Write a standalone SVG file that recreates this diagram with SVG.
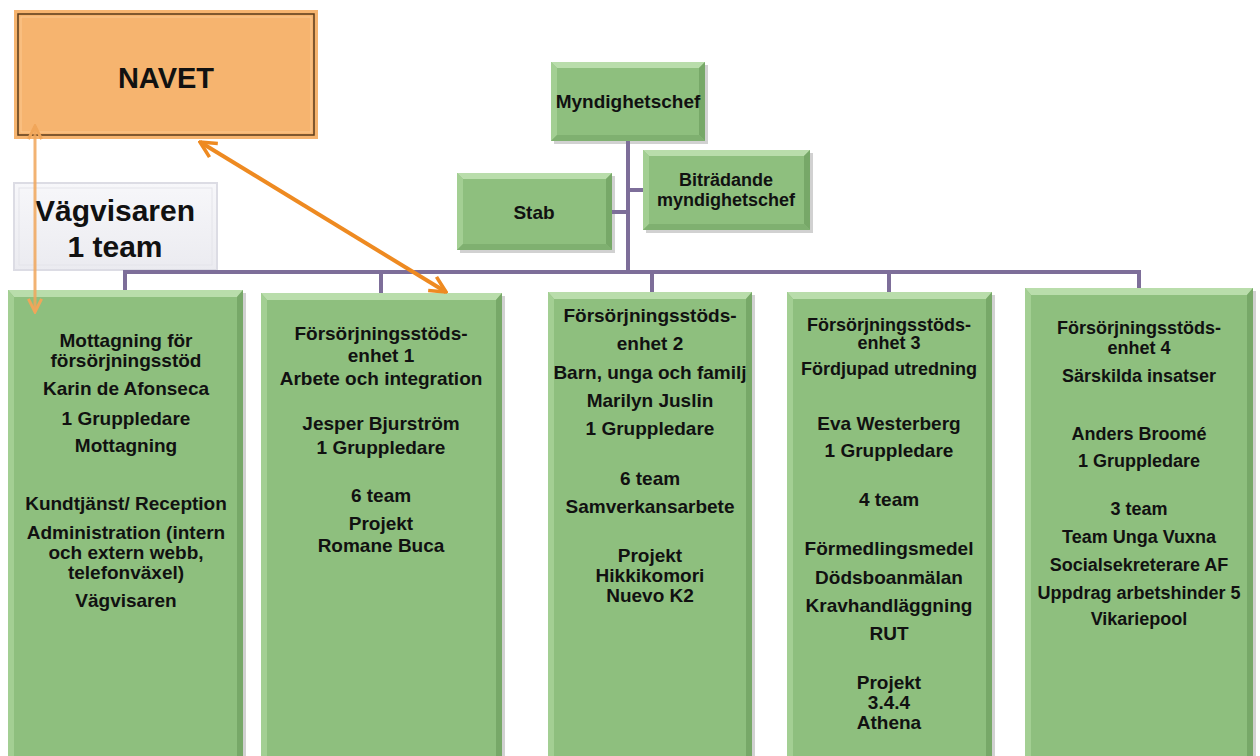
<svg xmlns="http://www.w3.org/2000/svg" width="1260" height="756" viewBox="0 0 1260 756">
<style>
text{font-family:"Liberation Sans",Arial,sans-serif;font-weight:bold;fill:#111;text-anchor:middle}
.t19{font-size:19px}
.t18{font-size:18px}
.g{fill:#8ebf7e}
.gt{fill:#b9ddab}
.gl{fill:#a3cf93}
.gr{fill:#77a868}
.gb{fill:#7fb070}
.sh{fill:#000;opacity:0.18}
.org{stroke:#7d6e99;stroke-width:4;fill:none}
</style>
<defs>
<marker id="chevL" viewBox="0 0 10 10" refX="9" refY="5" markerWidth="5.5" markerHeight="5.5" orient="auto-start-reverse" markerUnits="strokeWidth">
<path d="M1,1 L9,5 L1,9" fill="none" stroke="#f0a65a" stroke-width="1.8"/>
</marker>
<marker id="chevD" viewBox="0 0 10 10" refX="9" refY="5" markerWidth="5" markerHeight="5" orient="auto-start-reverse" markerUnits="strokeWidth">
<path d="M1,1 L9,5 L1,9" fill="none" stroke="#ee8a21" stroke-width="1.8"/>
</marker>
<linearGradient id="greyg" x1="0" y1="0" x2="0" y2="1">
<stop offset="0" stop-color="#f7f7fa"/><stop offset="1" stop-color="#ebebf0"/>
</linearGradient>
</defs>

<g id="navet">
<rect x="14" y="10" width="304" height="129" fill="#f6b46f"/>
<rect x="18" y="14" width="296" height="121" fill="none" stroke="#5a3a1a" stroke-width="1.5"/>
<rect x="21" y="17" width="290" height="115" fill="none" stroke="#fcc890" stroke-width="1"/>
<text x="166" y="88" style="font-size:29px">NAVET</text>
</g>

<g id="vagvisaren">
<rect x="14" y="183" width="203" height="87" fill="url(#greyg)" stroke="#dcdce4" stroke-width="2"/>
<rect x="19" y="188" width="193" height="77" fill="none" stroke="#e4e4ea" stroke-width="1"/>
<text x="115" y="221" style="font-size:30px">Vägvisaren</text>
<text x="115" y="257" style="font-size:30px">1 team</text>
</g>

<g id="myndighetschef">
<rect x="554" y="65" width="154" height="79" class="sh"/>
<rect x="551" y="62" width="154" height="79" class="g"/>
<polygon points="551,62 705,62 699,68 557,68" class="gt"/>
<polygon points="551,62 557,68 557,135 551,141" class="gl"/>
<polygon points="705,62 705,141 699,135 699,68" class="gr"/>
<polygon points="551,141 705,141 699,135 557,135" class="gb"/>
<text x="628" y="108" class="t19">Myndighetschef</text>
</g>

<g id="stab">
<rect x="460" y="176" width="155" height="77" class="sh"/>
<rect x="457" y="173" width="155" height="77" class="g"/>
<polygon points="457,173 612,173 606,179 463,179" class="gt"/>
<polygon points="457,173 463,179 463,244 457,250" class="gl"/>
<polygon points="612,173 612,250 606,244 606,179" class="gr"/>
<polygon points="457,250 612,250 606,244 463,244" class="gb"/>
<text x="534" y="219" class="t19">Stab</text>
</g>

<g id="bitradande">
<rect x="646" y="153" width="167" height="80" class="sh"/>
<rect x="643" y="150" width="167" height="80" class="g"/>
<polygon points="643,150 810,150 804,156 649,156" class="gt"/>
<polygon points="643,150 649,156 649,224 643,230" class="gl"/>
<polygon points="810,150 810,230 804,224 804,156" class="gr"/>
<polygon points="643,230 810,230 804,224 649,224" class="gb"/>
<text x="726" y="186" class="t18">Biträdande</text>
<text x="726" y="206" class="t18">myndighetschef</text>
</g>

<g id="mottagning">
<rect x="11" y="293" width="235" height="470" class="sh"/>
<rect x="8" y="290" width="235" height="470" class="g"/>
<polygon points="8,290 243,290 237,297 14,297" class="gt"/>
<polygon points="8,290 14,297 14,760 8,760" class="gl"/>
<polygon points="243,290 243,760 237,760 237,297" class="gr"/>
<g class="t19">
<text x="126" y="347">Mottagning för</text>
<text x="126" y="367">försörjningsstöd</text>
<text x="126" y="395">Karin de Afonseca</text>
<text x="126" y="425">1 Gruppledare</text>
<text x="126" y="452">Mottagning</text>
<text x="126" y="510">Kundtjänst/ Reception</text>
<text x="126" y="539">Administration (intern</text>
<text x="126" y="559">och extern webb,</text>
<text x="126" y="579">telefonväxel)</text>
<text x="126" y="607">Vägvisaren</text>
</g>
</g>

<g id="enhet1">
<rect x="264" y="296" width="241" height="470" class="sh"/>
<rect x="261" y="293" width="241" height="470" class="g"/>
<polygon points="261,293 502,293 496,300 267,300" class="gt"/>
<polygon points="261,293 267,300 267,763 261,763" class="gl"/>
<polygon points="502,293 502,763 496,763 496,300" class="gr"/>
<g class="t19">
<text x="381" y="340">Försörjningsstöds-</text>
<text x="381" y="362">enhet 1</text>
<text x="381" y="385">Arbete och integration</text>
<text x="381" y="430">Jesper Bjurström</text>
<text x="381" y="454">1 Gruppledare</text>
<text x="381" y="502">6 team</text>
<text x="381" y="530">Projekt</text>
<text x="381" y="552">Romane Buca</text>
</g>
</g>

<g id="enhet2">
<rect x="551" y="295" width="204" height="470" class="sh"/>
<rect x="548" y="292" width="204" height="470" class="g"/>
<polygon points="548,292 752,292 746,299 554,299" class="gt"/>
<polygon points="548,292 554,299 554,762 548,762" class="gl"/>
<polygon points="752,292 752,762 746,762 746,299" class="gr"/>
<g class="t19">
<text x="650" y="322">Försörjningsstöds-</text>
<text x="650" y="350">enhet 2</text>
<text x="650" y="379">Barn, unga och familj</text>
<text x="650" y="407">Marilyn  Juslin</text>
<text x="650" y="435">1 Gruppledare</text>
<text x="650" y="485">6 team</text>
<text x="650" y="513">Samverkansarbete</text>
<text x="650" y="562">Projekt</text>
<text x="650" y="582">Hikkikomori</text>
<text x="650" y="602">Nuevo K2</text>
</g>
</g>

<g id="enhet3">
<rect x="790" y="295" width="205" height="470" class="sh"/>
<rect x="787" y="292" width="205" height="470" class="g"/>
<polygon points="787,292 992,292 986,299 793,299" class="gt"/>
<polygon points="787,292 793,299 793,762 787,762" class="gl"/>
<polygon points="992,292 992,762 986,762 986,299" class="gr"/>
<g class="t18">
<text x="889" y="331">Försörjningsstöds-</text>
<text x="889" y="349">enhet 3</text>
<text x="889" y="375">Fördjupad utredning</text>
</g>
<g class="t19">
<text x="889" y="430">Eva Westerberg</text>
<text x="889" y="457">1 Gruppledare</text>
<text x="889" y="506">4 team</text>
<text x="889" y="555">Förmedlingsmedel</text>
<text x="889" y="584">Dödsboanmälan</text>
<text x="889" y="612">Kravhandläggning</text>
<text x="889" y="640">RUT</text>
<text x="889" y="689">Projekt</text>
<text x="889" y="709">3.4.4</text>
<text x="889" y="729">Athena</text>
</g>
</g>

<g id="enhet4">
<rect x="1028" y="291" width="228" height="470" class="sh"/>
<rect x="1025" y="288" width="228" height="470" class="g"/>
<polygon points="1025,288 1253,288 1247,295 1031,295" class="gt"/>
<polygon points="1025,288 1031,295 1031,758 1025,758" class="gl"/>
<polygon points="1253,288 1253,758 1247,758 1247,295" class="gr"/>
<g class="t18">
<text x="1139" y="334">Försörjningsstöds-</text>
<text x="1139" y="354">enhet 4</text>
<text x="1139" y="382">Särskilda insatser</text>
<text x="1139" y="440">Anders Broomé</text>
<text x="1139" y="467">1 Gruppledare</text>
<text x="1139" y="515">3 team</text>
<text x="1139" y="543">Team Unga Vuxna</text>
<text x="1139" y="571">Socialsekreterare AF</text>
<text x="1139" y="599">Uppdrag arbetshinder 5</text>
<text x="1139" y="625">Vikariepool</text>
</g>
</g>

<g id="connectors">
<path class="org" d="M628,141 V272"/>
<path class="org" d="M612,212 H628"/>
<path class="org" d="M628,190 H643"/>
<path class="org" d="M125,290 V272 H1139 V288"/>
<path class="org" d="M381,272 V293"/>
<path class="org" d="M652,272 V292"/>
<path class="org" d="M889,272 V292"/>
<line x1="35" y1="126" x2="35" y2="312" stroke="#f0a65a" stroke-width="3" stroke-opacity="0.85" marker-start="url(#chevL)" marker-end="url(#chevL)"/>
<line x1="200" y1="142" x2="446" y2="292" stroke="#ee8a21" stroke-width="4" marker-start="url(#chevD)" marker-end="url(#chevD)"/>
</g>
</svg>
